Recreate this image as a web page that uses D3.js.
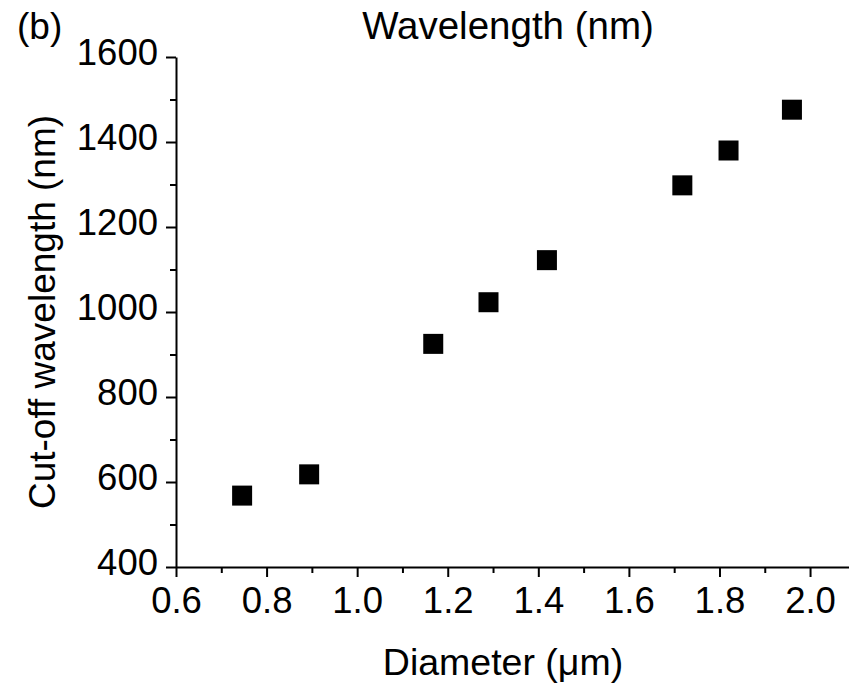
<!DOCTYPE html>
<html>
<head>
<meta charset="utf-8">
<script src="https://cdn.jsdelivr.net/npm/d3@7"></script>
<style>
    body { margin: 0; background: #fff; }
    text { font-family: "Liberation Sans", Arial, sans-serif; fill: #000; }
</style>
</head>
<body>
<div id="chart"></div>
<script>
// diameter (um) vs cut-off wavelength (nm)
let diameters = [0.746, 0.894, 1.168, 1.290, 1.419, 1.718, 1.820, 1.960];
let cutoffs = [568, 618, 925, 1023, 1122, 1298, 1380, 1476];

let xMajor = [0.6, 0.8, 1.0, 1.2, 1.4, 1.6, 1.8, 2.0];
let xMinor = [0.7, 0.9, 1.1, 1.3, 1.5, 1.7, 1.9];
let yMajor = [400, 600, 800, 1000, 1200, 1400, 1600];
let yMinor = [500, 700, 900, 1100, 1300, 1500];

function Chart() {
    this.init();
}

Chart.prototype.init = function() {
    let vis = this;

    vis.svgWidth = 849;
    vis.svgHeight = 684;

    vis.svg = d3.select('#chart').append('svg')
        .attr('width', vis.svgWidth)
        .attr('height', vis.svgHeight);

    vis.svg.append('rect')
        .attr('width', vis.svgWidth)
        .attr('height', vis.svgHeight)
        .attr('fill', '#fff');

    vis.x = d3.scaleLinear().domain([0.6, 2.086]).range([176, 849]);
    vis.y = d3.scaleLinear().domain([400, 1600]).range([567, 57]);
}

Chart.prototype.draw = function() {
    let vis = this;

    // minor ticks first, then main axes on top
    vis.svg.append('g')
        .attr('transform', 'translate(0,567)')
        .call(d3.axisBottom(vis.x).tickValues(xMinor).tickSize(6).tickSizeOuter(0).tickFormat(''))
        .call(g => g.select('.domain').remove())
        .selectAll('line').attr('stroke-width', 2);

    vis.svg.append('g')
        .attr('transform', 'translate(176,0)')
        .call(d3.axisLeft(vis.y).tickValues(yMinor).tickSize(6).tickSizeOuter(0).tickFormat(''))
        .call(g => g.select('.domain').remove())
        .selectAll('line').attr('stroke-width', 2);

    let xAxis = vis.svg.append('g')
        .attr('transform', 'translate(0,567)')
        .call(d3.axisBottom(vis.x)
            .tickValues(xMajor)
            .tickSize(10)
            .tickSizeOuter(0)
            .tickPadding(10)
            .tickFormat(d3.format('.1f')));

    let yAxis = vis.svg.append('g')
        .attr('transform', 'translate(176,0)')
        .call(d3.axisLeft(vis.y)
            .tickValues(yMajor)
            .tickSize(10)
            .tickSizeOuter(0)
            .tickPadding(8)
            .tickFormat(d3.format('d')));

    [xAxis, yAxis].forEach(a => {
        a.select('.domain').attr('stroke-width', 2);
        a.selectAll('line').attr('stroke-width', 2);
        a.selectAll('text')
            .style('font-size', '36.5px')
            .style('font-family', '"Liberation Sans", Arial, sans-serif');
    });
    yAxis.selectAll('text').attr('dy', '0.2em');

    // data squares
    let pts = diameters.map((d, i) => ({ d: d, c: cutoffs[i] }));
    vis.svg.selectAll('rect.pt').data(pts)
        .enter()
        .append('rect')
        .attr('class', 'pt')
        .attr('x', d => vis.x(d.d) - 10)
        .attr('y', d => vis.y(d.c) - 10)
        .attr('width', 20)
        .attr('height', 20)
        .attr('fill', '#000');

    // labels
    vis.svg.append('text')
        .attr('x', 17).attr('y', 39)
        .style('font-size', '37px')
        .text('(b)');

    vis.svg.append('text')
        .attr('x', 508).attr('y', 39)
        .attr('text-anchor', 'middle')
        .style('font-size', '38.5px')
        .text('Wavelength (nm)');

    vis.svg.append('text')
        .attr('x', 503).attr('y', 675)
        .attr('text-anchor', 'middle')
        .style('font-size', '37.5px')
        .text('Diameter (\u03bcm)');

    vis.svg.append('text')
        .attr('transform', 'translate(55,312) rotate(-90)')
        .attr('text-anchor', 'middle')
        .style('font-size', '37px')
        .text('Cut-off wavelength (nm)');
}

let chart = new Chart();
chart.draw();
</script>
</body>
</html>
